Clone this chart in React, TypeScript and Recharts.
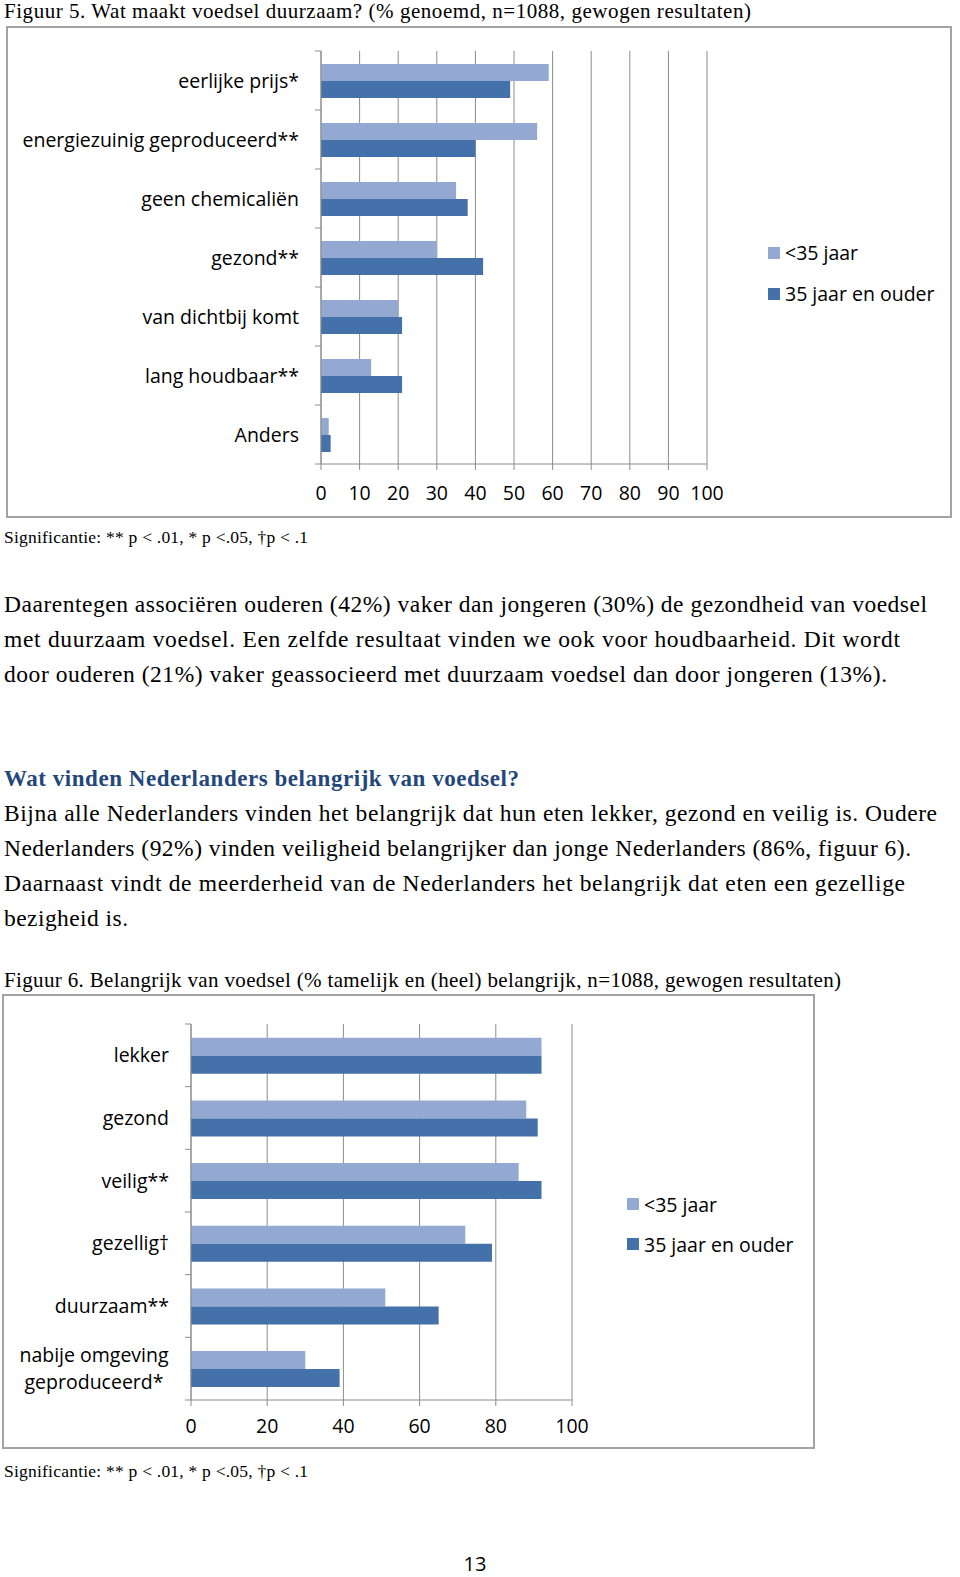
import React from "react";
import { BarChart, Bar, XAxis, YAxis, CartesianGrid } from "recharts";

// Figuur 5: wat maakt voedsel duurzaam
const reasons = [
  "eerlijke prijs*",
  "energiezuinig geproduceerd**",
  "geen chemicaliën",
  "gezond**",
  "van dichtbij komt",
  "lang houdbaar**",
  "Anders",
];
const reasonsYoung = [59, 56, 35, 30, 20, 13, 2];
const reasonsOld = [49, 40, 38, 42, 21, 21, 2.5];
const reasonTicks = [0, 10, 20, 30, 40, 50, 60, 70, 80, 90, 100];

// Figuur 6: belangrijk van voedsel
const aspects = [
  "lekker",
  "gezond",
  "veilig**",
  "gezellig†",
  "duurzaam**",
  "nabije omgeving\ngeproduceerd*",
];
const aspectsYoung = [92, 88, 86, 72, 51, 30];
const aspectsOld = [92, 91, 92, 79, 65, 39];
const aspectTicks = [0, 20, 40, 60, 80, 100];

const seriesNames = ["<35 jaar", "35 jaar en ouder"];

const para1 = [
  "Daarentegen associëren ouderen (42%) vaker dan jongeren (30%) de gezondheid van voedsel",
  "met duurzaam voedsel. Een zelfde resultaat vinden we ook voor houdbaarheid. Dit wordt",
  "door ouderen (21%) vaker geassocieerd met duurzaam voedsel dan door jongeren (13%).",
];
const para2 = [
  "Bijna alle Nederlanders vinden het belangrijk dat hun eten lekker, gezond en veilig is. Oudere",
  "Nederlanders (92%) vinden veiligheid belangrijker dan jonge Nederlanders (86%, figuur 6).",
  "Daarnaast vindt de meerderheid van de Nederlanders het belangrijk dat eten een gezellige",
  "bezigheid is.",
];
const para1Widths = [923, 896, 883];
const para2Widths = [933, 907, 901, 124];

const LIGHT = "#94a9d2";
const DARK = "#4571aa";
const GRID = "#8c8c8c";
const BOX = "#a3a3a3";
const SANS = "'Open Sans', Lato, sans-serif";
const SERIF = "'Liberation Serif', 'DejaVu Serif', serif";
const LABEL_SIZE = 19.5;

const reasonRows = reasons.map((name, i) => ({
  name,
  young: reasonsYoung[i],
  old: reasonsOld[i],
}));
const aspectRows = aspects.map((name, i) => ({
  name,
  young: aspectsYoung[i],
  old: aspectsOld[i],
}));

const LABEL_GAP = 22; // tickSize 6 + tickMargin 16

const makeCategoryTick = (band: number, count: number) => (props: any) => {
  const { x, y, payload, index } = props;
  const axisX = x + LABEL_GAP;
  const lines = String(payload.value).split("\n");
  return (
    <g>
      <line x1={axisX - 6} x2={axisX} y1={y - band / 2} y2={y - band / 2} stroke={GRID} />
      {index === count - 1 && (
        <line x1={axisX - 6} x2={axisX} y1={y + band / 2} y2={y + band / 2} stroke={GRID} />
      )}
      {lines.length === 1 ? (
        <text x={x} y={y} dy="0.36em" textAnchor="end" fill="#000" fontSize={LABEL_SIZE} fontFamily={SANS}>
          {lines[0]}
        </text>
      ) : (
        <text x={x - 75} y={y} textAnchor="middle" fill="#000" fontSize={LABEL_SIZE} fontFamily={SANS}>
          {lines.map((l, i) => (
            <tspan key={i} x={x - 75} dy={i === 0 ? -7 : 27}>
              {l}
            </tspan>
          ))}
        </text>
      )}
    </g>
  );
};

const LegendBox: React.FC<{ left: number; top: number; row: number }> = ({ left, top, row }) => (
  <div style={{ position: "absolute", left, top, fontFamily: SANS, fontSize: LABEL_SIZE, color: "#000" }}>
    {seriesNames.map((n, i) => (
      <div key={n} style={{ display: "flex", alignItems: "center", height: row, whiteSpace: "nowrap" }}>
        <span
          style={{
            display: "inline-block",
            width: 12,
            height: 12,
            background: i === 0 ? LIGHT : DARK,
            marginRight: 5,
          }}
        />
        <span>{n}</span>
      </div>
    ))}
  </div>
);

const tickStyle = { fill: "#000", fontSize: LABEL_SIZE, fontFamily: SANS };

export default function App() {
  const band1 = (464 - 51) / reasons.length;
  const band2 = (1400 - 1024) / aspects.length;

  return (
    <div style={{ position: "absolute", left: 0, top: 0, width: 960, height: 1577, background: "#fff" }}>
      <svg width={960} height={1577} style={{ position: "absolute", left: 0, top: 0 }}>
        <text x={4} y={18} fontFamily={SERIF} fontSize={21} textLength={747} fill="#000">
          Figuur 5. Wat maakt voedsel duurzaam? (% genoemd, n=1088, gewogen resultaten)
        </text>
        <rect x={7} y={27} width={944} height={490} fill="none" stroke={BOX} strokeWidth={2} />
        <text x={4} y={543} fontFamily={SERIF} fontSize={17.5} textLength={304} fill="#000">
          Significantie: ** p &lt; .01, * p &lt;.05, †p &lt; .1
        </text>
        {para1.map((l, i) => (
          <text key={i} x={4} y={612 + i * 35} fontFamily={SERIF} fontSize={23.5} textLength={para1Widths[i]} fill="#000">
            {l}
          </text>
        ))}
        <text x={4} y={786} fontFamily={SERIF} fontSize={23} fontWeight="bold" textLength={515} fill="#23477a">
          Wat vinden Nederlanders belangrijk van voedsel?
        </text>
        {para2.map((l, i) => (
          <text key={i} x={4} y={821 + i * 35} fontFamily={SERIF} fontSize={23.5} textLength={para2Widths[i]} fill="#000">
            {l}
          </text>
        ))}
        <text x={4} y={987} fontFamily={SERIF} fontSize={21} textLength={837} fill="#000">
          Figuur 6. Belangrijk van voedsel (% tamelijk en (heel) belangrijk, n=1088, gewogen resultaten)
        </text>
        <rect x={3} y={995} width={811} height={453} fill="none" stroke={BOX} strokeWidth={2} />
        <text x={4} y={1477} fontFamily={SERIF} fontSize={17.5} textLength={304} fill="#000">
          Significantie: ** p &lt; .01, * p &lt;.05, †p &lt; .1
        </text>
        <text x={475} y={1571} textAnchor="middle" fontFamily={SANS} fontSize={20} fill="#000">
          13
        </text>
      </svg>

      <div style={{ position: "absolute", left: 7, top: 27 }}>
        <BarChart
          width={944}
          height={490}
          data={reasonRows}
          layout="vertical"
          margin={{ top: 24, right: 244, bottom: 23, left: 0 }}
          barCategoryGap="22%"
          barGap={0}
        >
          <CartesianGrid horizontal={false} stroke={GRID} />
          <XAxis
            type="number"
            domain={[0, 100]}
            ticks={reasonTicks}
            interval={0}
            height={30}
            axisLine={{ stroke: GRID }}
            tickLine={{ stroke: GRID }}
            tickSize={6}
            tickMargin={16}
            tick={tickStyle}
          />
          <YAxis
            type="category"
            dataKey="name"
            width={314}
            interval={0}
            axisLine={{ stroke: GRID }}
            tickLine={false}
            tickSize={6}
            tickMargin={16}
            tick={makeCategoryTick(band1, reasons.length)}
          />
          <Bar dataKey="young" name={seriesNames[0]} fill={LIGHT} isAnimationActive={false} />
          <Bar dataKey="old" name={seriesNames[1]} fill={DARK} isAnimationActive={false} />
        </BarChart>
        <LegendBox left={761} top={205} row={41} />
      </div>

      <div style={{ position: "absolute", left: 3, top: 995 }}>
        <BarChart
          width={811}
          height={453}
          data={aspectRows}
          layout="vertical"
          margin={{ top: 29, right: 242, bottom: 18, left: 0 }}
          barCategoryGap="22%"
          barGap={0}
        >
          <CartesianGrid horizontal={false} stroke={GRID} />
          <XAxis
            type="number"
            domain={[0, 100]}
            ticks={aspectTicks}
            interval={0}
            height={30}
            axisLine={{ stroke: GRID }}
            tickLine={{ stroke: GRID }}
            tickSize={6}
            tickMargin={13}
            tick={tickStyle}
          />
          <YAxis
            type="category"
            dataKey="name"
            width={188}
            interval={0}
            axisLine={{ stroke: GRID }}
            tickLine={false}
            tickSize={6}
            tickMargin={16}
            tick={makeCategoryTick(band2, aspects.length)}
          />
          <Bar dataKey="young" name={seriesNames[0]} fill={LIGHT} isAnimationActive={false} />
          <Bar dataKey="old" name={seriesNames[1]} fill={DARK} isAnimationActive={false} />
        </BarChart>
        <LegendBox left={624} top={189} row={40} />
      </div>
    </div>
  );
}
